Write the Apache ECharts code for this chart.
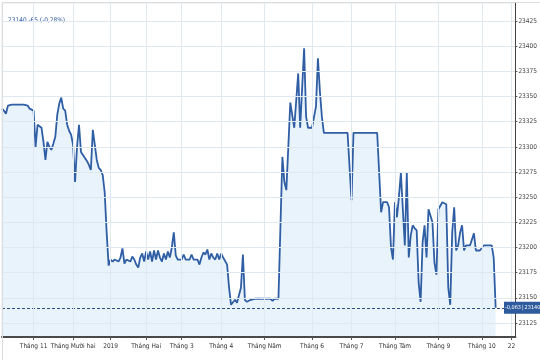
<!DOCTYPE html>
<html><head><meta charset="utf-8">
<script src="https://cdn.jsdelivr.net/npm/echarts@6/dist/echarts.min.js"></script>
<style>html,body{margin:0;padding:0;background:#fff}#c{width:540px;height:360px}</style>
</head><body><div id="c"></div>
<script>
// ---- data ----
const titleText = '23140 -65 (-0,28%)';
const lastLabel = '-0,063\u2009|\u200923140';
const lastValue = 23140;
const categoryCount = 261;
const tickIndex = [16, 36, 55, 73, 91, 111, 133, 157, 177, 199, 221, 243, 258];
const tickLabels = ['Tháng 11', 'Tháng Mười hai', '2019', 'Tháng Hai', 'Tháng 3', 'Tháng 4', 'Tháng Năm', 'Tháng 6', 'Tháng 7', 'Tháng Tám', 'Tháng 9', 'Tháng 10', '22'];
const yTicks = [23125, 23150, 23175, 23200, 23225, 23250, 23275, 23300, 23325, 23350, 23375, 23400, 23425];
const prices = [
 23338,23336,23333,23341,23342,23342,23342,23342,23342,23342,
 23342,23342,23342,23341,23338,23338,23336,23300,23322,23322,
 23319,23305,23287,23305,23300,23297,23303,23310,23332,23343,
 23349,23338,23336,23322,23316,23312,23302,23265,23300,23322,
 23295,23296,23289,23286,23282,23277,23317,23317,23287,23279,
 23277,23272,23255,23215,23182,23188,23186,23188,23188,23186,
 23190,23199,23184,23188,23188,23186,23191,23188,23183,23180,
 23190,23194,23186,23196,23188,23196,23186,23197,23188,23197,
 23190,23186,23194,23188,23196,23190,23200,23215,23192,23188,
 23188,23188,23193,23188,23188,23188,23193,23188,23188,23188,
 23183,23190,23195,23193,23198,23188,23194,23190,23188,23194,
 23188,23194,23190,23190,23183,23160,23143,23143,23148,23145,
 23145,23160,23193,23148,23146,23145,23148,23149,23149,23149,
 23149,23149,23149,23149,23149,23149,23149,23147,23149,23149,
 23149,23220,23290,23265,23257,23300,23344,23344,23319,23319,
 23373,23319,23319,23398,23330,23319,23319,23319,23319,23340,
 23388,23355,23330,23314,23314,23314,23314,23314,23314,23314,
 23314,23314,23314,23314,23314,23314,23314,23247,23314,23314,
 23314,23314,23314,23314,23314,23314,23314,23314,23314,23314,
 23314,23314,23235,23245,23245,23245,23240,23200,23188,23245,
 23230,23250,23274,23274,23202,23274,23190,23212,23222,23219,
 23217,23165,23146,23205,23222,23190,23238,23238,23225,23185,
 23173,23238,23239,23245,23244,23243,23160,23143,23215,23240,
 23197,23202,23215,23222,23197,23202,23202,23202,23202,23214,
 23197,23197,23197,23197,23202,23202,23202,23202,23202,23190,
 23140
];
// ---- chart ----
const categories = [];
for (let i = 0; i < categoryCount; i++) categories.push(String(i));
const tickMap = {};
tickIndex.forEach((t, k) => { tickMap[t] = tickLabels[k]; });
const isTick = (idx) => tickMap[idx] !== undefined;
const FONT = "'DejaVu Sans', sans-serif";
const W = 'condensed';

const chart = echarts.init(document.getElementById('c'), null, {renderer: 'canvas'});
chart.setOption({
  animation: false,
  backgroundColor: '#fff',
  title: {
    text: titleText, left: 3, top: 12,
    textStyle: {fontSize: 6.5, fontWeight: W, color: '#2d5aa0', fontFamily: FONT}
  },
  grid: {left: 2, right: 18, top: 3, bottom: 23, show: true, borderColor: '#e2e8ee', borderWidth: 1},
  xAxis: {
    type: 'category', data: categories, boundaryGap: false,
    axisLine: {show: true, lineStyle: {color: '#4a4a4a', width: 2}},
    axisTick: {show: true, interval: isTick, length: 3, lineStyle: {color: '#555'}},
    axisLabel: {interval: isTick, formatter: (v, idx) => tickMap[idx] || '', fontSize: 6.5, fontWeight: W, color: '#333', margin: 6, fontFamily: FONT},
    splitLine: {show: true, interval: isTick, lineStyle: {color: '#e1e9f0', width: 1}},
    z: 10
  },
  yAxis: {
    type: 'value', position: 'right', min: 23111, max: 23443, scale: true,
    axisLine: {show: true, lineStyle: {color: '#444', width: 1}},
    axisTick: {show: true, customValues: yTicks, length: 2, inside: false, lineStyle: {color: '#555'}},
    axisLabel: {customValues: yTicks, formatter: (v) => String(v), fontSize: 6.5, fontWeight: W, color: '#444', margin: 3, fontFamily: FONT},
    splitLine: {show: true, lineStyle: {color: '#dfe8ef', width: 1}},
    z: 10
  },
  series: [{
    type: 'line', data: prices, showSymbol: false, symbol: 'none',
    lineStyle: {color: '#2f5ea5', width: 1.8},
    areaStyle: {color: '#e9f3fc', opacity: 1},
    markLine: {
      silent: true, symbol: 'none', animation: false,
      lineStyle: {color: '#2c4f80', type: [3, 2], width: 1},
      label: {show: false},
      data: [{yAxis: lastValue}]
    },
    z: 2
  }]
});
const py = chart.convertToPixel({gridIndex: 0}, [0, lastValue])[1];
chart.setOption({
  graphic: [
    {type: 'rect', left: 0, top: 0, shape: {x: 0.5, y: 0.5, width: 539, height: 359}, style: {fill: 'none', stroke: '#dcdcdc', lineWidth: 1}, z: 100, silent: true},
    {type: 'rect', shape: {x: 504, y: py - 6, width: 36, height: 12}, style: {fill: '#2d5b9e'}, z: 100, silent: true},
    {type: 'text', x: 505, y: py, style: {text: lastLabel, fill: '#fff', fontSize: 5.5, fontWeight: W, fontFamily: FONT, align: 'left', verticalAlign: 'middle'}, z: 101, silent: true}
  ]
});
</script></body></html>
